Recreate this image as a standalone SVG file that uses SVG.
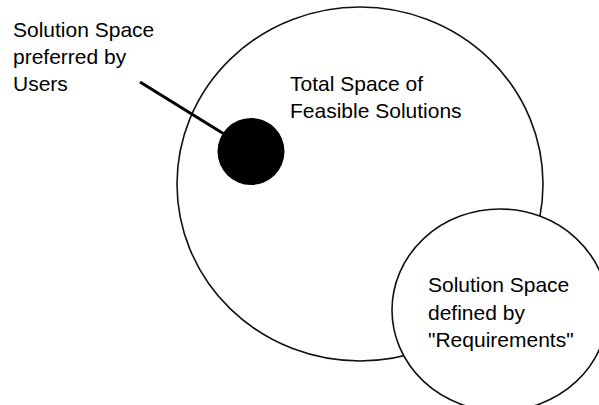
<svg xmlns="http://www.w3.org/2000/svg" width="599" height="405" viewBox="0 0 599 405">
<style>
.lbl{font-family:"Liberation Sans",Arial,sans-serif;font-size:21px;fill:#000}
.ring{fill:#fff;stroke:#111;stroke-width:1.6}
</style>
<rect width="599" height="405" fill="#fff"/>
<g id="total-space">
<ellipse class="ring" cx="360" cy="184" rx="183" ry="177"/>
<text class="lbl" x="290" y="91">Total Space of</text>
<text class="lbl" x="290" y="118">Feasible Solutions</text>
</g>
<g id="requirements-space">
<ellipse class="ring" cx="500" cy="310" rx="108" ry="101"/>
<text class="lbl" x="428" y="292">Solution Space</text>
<text class="lbl" x="428" y="319.5">defined by</text>
<text class="lbl" x="428" y="347">"Requirements"</text>
</g>
<g id="user-space">
<circle cx="251" cy="151.5" r="33.5" fill="#000"/>
</g>
<g id="user-label">
<text class="lbl" x="13" y="37">Solution Space</text>
<text class="lbl" x="13" y="64">preferred by</text>
<text class="lbl" x="13" y="91">Users</text>
</g>
<g id="connectors">
<line x1="140" y1="82" x2="224" y2="134" stroke="#000" stroke-width="3"/>
</g>
</svg>
